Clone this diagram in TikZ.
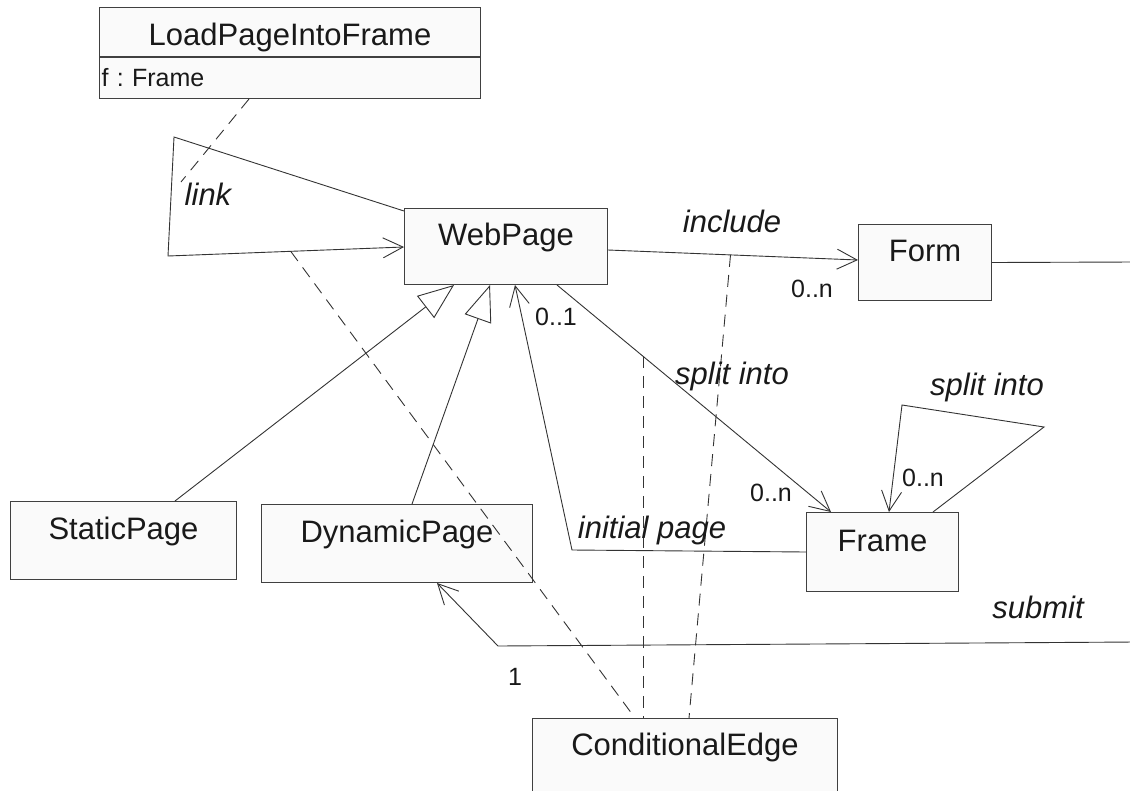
\documentclass[tikz,border=0pt]{standalone}
\usepackage{fontspec}
\setmainfont{Liberation Sans}
\frenchspacing
\usetikzlibrary{positioning}
\usetikzlibrary{arrows.meta}

\tikzset{
  classbox/.style={draw=black!75, fill=black!2, line width=1pt, anchor=north west,
    inner sep=0pt, text height=37pt, text depth=39pt, text=black!90,
    font=\fontsize{31}{37}\selectfont},
  plainassoc/.style={draw=black!80, line width=0.9pt},
  assoc/.style={plainassoc, -{Straight Barb[length=20pt,width=20pt]}},
  gen/.style={plainassoc, -{Triangle[open,length=36pt,width=28pt]}},
  assocclass/.style={plainassoc, dash pattern=on 12pt off 8pt},
  role/.style={font=\fontsize{31}{37}\selectfont\itshape, text=black!90, inner sep=0pt, anchor=base},
  mult/.style={font=\fontsize{25}{30}\selectfont, text=black!90, inner sep=0pt, anchor=base},
}

\begin{document}
\begin{tikzpicture}[x=1pt, y=-1pt]
\useasboundingbox (0,0) rectangle (1130,790);

% classes
\node[classbox, minimum width=381pt, text height=38pt, text depth=11pt] (load) at (99,7) {LoadPageIntoFrame};
\node[classbox, text width=377pt, inner xsep=2pt, align=left, text height=29pt, text depth=12pt,
  font=\fontsize{25}{30}\selectfont] (loadattr) at (load.south west) {f : Frame};
\node[classbox, minimum width=203pt] (web) at (404,208) {WebPage};
\node[classbox, minimum width=133pt] (form) at (858,224) {Form};
\node[classbox, minimum width=152pt, minimum height=79pt] (frame) at (806,512) {Frame};
\node[classbox, minimum width=226pt, minimum height=78pt] (static) at (10,501) {StaticPage};
\node[classbox, minimum width=271pt, minimum height=78pt] (dynamic) at (261,504) {DynamicPage};
\node[classbox, minimum width=305pt] (cond) at (532,718) {ConditionalEdge};

% generalisations
\draw[gen] ([xshift=165pt]static.north west) -- ([xshift=50pt]web.south west);
\draw[gen] ([xshift=151pt]dynamic.north west) -- ([xshift=86pt]web.south west);

% associations
\draw[assoc] ([yshift=-3pt]web.north west) -- (174,137) -- (168,256)
  -- coordinate[pos=0.52] (linkpt) ([yshift=-39pt]web.north west);
\draw[assoc] ([yshift=-42pt]web.north east) -- coordinate[pos=0.49] (incpt) ([yshift=-36pt]form.north west);
\draw[assoc] ([xshift=153pt]web.south west) -- coordinate[pos=0.314] (splitpt) ([xshift=25pt]frame.north west);
\draw[assoc] ([yshift=-40pt]frame.north west) -- (572,550) -- ([xshift=111pt]web.south west);
\draw[assoc] ([xshift=127pt]frame.north west) -- (1044,427) -- (902,405) -- ([xshift=83pt]frame.north west);

\coordinate (subout) at (1135,262);
\coordinate (subin) at (1135,642);
\draw[plainassoc] (form.east) -- (subout);
\draw[assoc] (subin) -- (498,646) -- ([xshift=176pt]dynamic.south west);

% association classes
\coordinate (loadend) at (181,182);
\draw[assocclass] ([xshift=150pt]loadattr.south west) -- (loadend);
\draw[assocclass] (linkpt) -- ([xshift=103pt]cond.north west);
\draw[assocclass] (splitpt) -- (splitpt |- cond.north);
\draw[assocclass] (incpt) -- ([xshift=157pt]cond.north west);

% role names and multiplicities
\node[role] (linklbl) at (208,205) {link};
\node[role] (inclbl) at (732,232) {include};
\node[mult] (incmult) at (812,297) {0..n};
\node[mult] (initmult) at (556,325) {0..1};
\node[role] (splitlbl) at (732,384) {split into};
\node[mult] (splitmult) at (771,501) {0..n};
\node[role] (selflbl) at (987,395) {split into};
\node[mult] (selfmult) at (923,486) {0..n};
\node[role] (initlbl) at (652,538) {initial page};
\node[role] (sublbl) at (1038,618) {submit};
\node[mult] (submult) at (515,685) {1};
\end{tikzpicture}
\end{document}
